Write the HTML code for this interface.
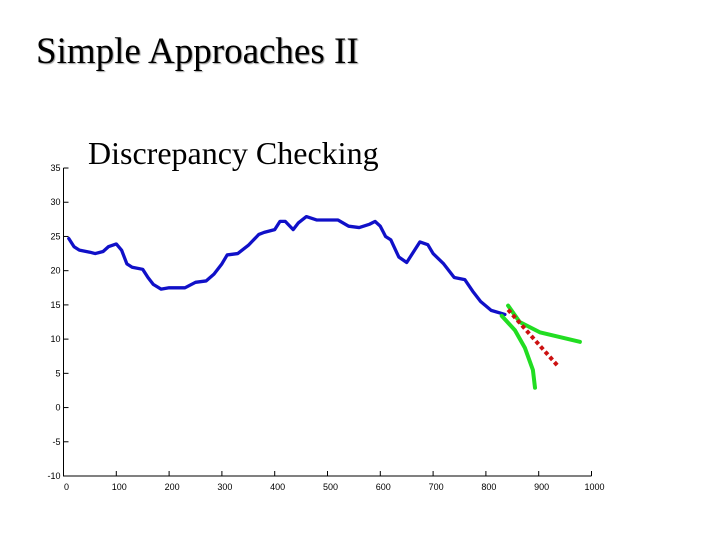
<!DOCTYPE html>
<html><head><meta charset="utf-8"><style>
body{margin:0;background:#fff;width:720px;height:540px;overflow:hidden;position:relative}
.t{position:absolute;font-family:"Liberation Serif",serif;color:#000;white-space:nowrap}
</style></head><body>
<div class="t" style="left:36px;top:30px;font-size:37px;text-shadow:1px 1px 1px #999">Simple Approaches II</div>
<div class="t" style="left:88px;top:135px;font-size:32px">Discrepancy Checking</div>
<svg id="c" width="720" height="540" style="position:absolute;left:0;top:0"></svg>
<script>
const xTicks=[0,100,200,300,400,500,600,700,800,900,1000];
const yTicks=[-10,-5,0,5,10,15,20,25,30,35];
const seriesX=[10,20,30,50,60,75,85,100,110,120,130,150,160,170,185,200,230,250,270,285,300,310,330,350,370,380,400,410,420,435,445,460,480,500,520,540,560,580,590,600,610,620,635,650,665,675,690,700,720,740,760,775,790,810,836];
const seriesY=[24.7,23.5,23,22.7,22.5,22.8,23.5,23.9,23,21,20.5,20.2,19,18,17.3,17.5,17.5,18.3,18.5,19.5,21,22.3,22.5,23.7,25.3,25.6,26,27.2,27.2,26,27,27.9,27.4,27.4,27.4,26.5,26.3,26.8,27.2,26.5,25,24.5,22,21.2,23,24.2,23.8,22.5,21,19,18.7,17,15.5,14.2,13.6];
const upperX=[842,864,902,978];
const upperY=[14.9,12.5,11.0,9.6];
const lowerX=[830,855,874,889,893];
const lowerY=[13.4,11.3,8.7,5.5,2.9];
const predX=[842,936];
const predY=[14.3,6.1];
const X=v=>63.5+v*0.528, Y=v=>476-(v+10)*6.844;
const svg=document.getElementById('c');const NS='http://www.w3.org/2000/svg';
function mk(t,a){const e=document.createElementNS(NS,t);for(const k in a)e.setAttribute(k,a[k]);svg.appendChild(e);return e;}
let ax=mk('path',{d:`M${X(0)} ${Y(35)}V${Y(-10)}H${X(1000)}`,stroke:'#000','stroke-width':1,fill:'none'});


xTicks.forEach(v=>{const l=mk('line',{x1:X(v),x2:X(v),y1:Y(-10),y2:Y(-10)-5,stroke:'#000'});


const t=mk('text',{x:X(v)+3,y:Y(-10)+14,'font-size':9,'font-family':'Liberation Sans, sans-serif','text-anchor':'middle'});t.textContent=v;

});
yTicks.forEach(v=>{const l=mk('line',{x1:X(0),x2:X(0)+5,y1:Y(v),y2:Y(v),stroke:'#000'});


const t=mk('text',{x:X(0)-3,y:Y(v)+3,'font-size':9,'font-family':'Liberation Sans, sans-serif','text-anchor':'end'});t.textContent=v;

});
function line(xs,ys,c,w,dash,name){const p=mk('polyline',{points:xs.map((x,i)=>X(x)+','+Y(ys[i])).join(' '),stroke:c,'stroke-width':w,fill:'none','stroke-linejoin':'round','stroke-linecap':dash?'butt':'round'});if(dash)p.setAttribute('stroke-dasharray',dash);

}
line(seriesX,seriesY,'#1010c8',3.3,null,'observed-series');
line(upperX,upperY,'#22dd22',4,null,'upper-bound');
line(lowerX,lowerY,'#22dd22',4,null,'lower-bound');
line(predX,predY,'#cc1111',4,'4,3','prediction');
</script>
</body></html>
